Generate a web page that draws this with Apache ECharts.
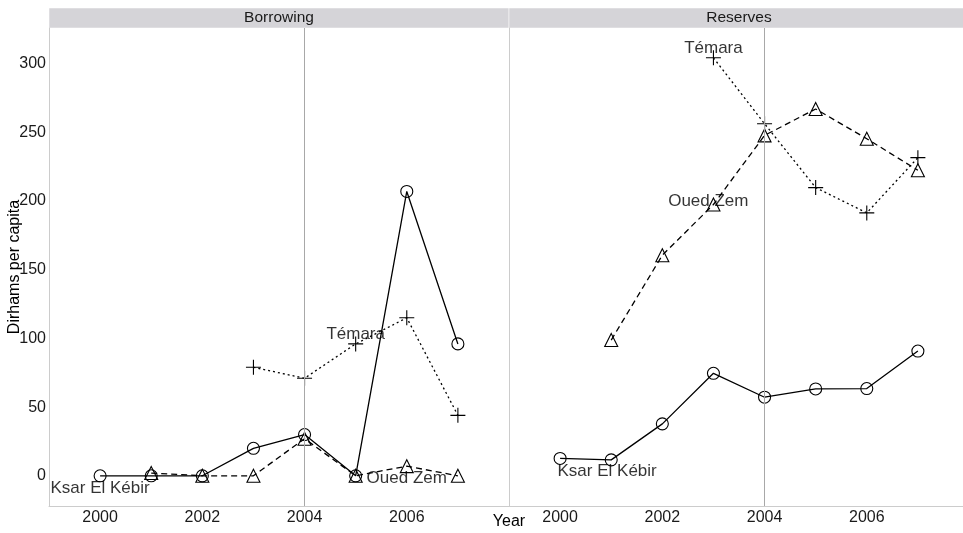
<!DOCTYPE html>
<html><head><meta charset="utf-8">
<script src="https://cdn.jsdelivr.net/npm/echarts@6/dist/echarts.min.js"></script>
<style>html,body{margin:0;padding:0;background:#fff}#c{width:963px;height:533px}</style>
</head><body><div id="c"></div>
<script>
const years = [2000, 2001, 2002, 2003, 2004, 2005, 2006, 2007];
const panels = ['Borrowing', 'Reserves'];
const towns = ['Ksar El Kébir', 'Oued Zem', 'Témara'];
// Borrowing
const borrowKsar  = [0, 0, 0, 20, 30, 0, 207, 96];
const borrowOued  = [null, 2, 0, 0, 27, 0, 7, 0];
const borrowTemara = [null, null, null, 79, 71, 96, 115, 44];
// Reserves
const resKsar  = [12.6, 11.6, 37.8, 74.6, 57.2, 63.2, 63.5, 90.8];
const resOued  = [null, 98.8, 160.6, 197.5, 247.8, 267, 245.4, 222.4];
const resTemara = [null, null, null, 304.3, 256.3, 209.8, 191.4, 231.6];
// direct labels [town, x, y]
const labelsBorrow = [['Ksar El Kébir', 2000, -9], ['Oued Zem', 2006, -2], ['Témara', 2005, 103]];
const labelsRes = [['Ksar El Kébir', 2000.92, 3], ['Oued Zem', 2002.9, 200], ['Témara', 2003, 311.5]];
const refYear = 2004;
const yTicks = [0, 50, 100, 150, 200, 250, 300];
const xTicks = [2000, 2002, 2004, 2006];

const FONT = '"Liberation Sans", Arial, sans-serif';
const pair = arr => years.map((y, i) => arr[i] == null ? null : [y, arr[i]]).filter(d => d);

const styles = [
  {symbol: 'circle', size: 12, type: 'solid'},
  {symbol: 'triangle', size: 13, type: [6, 4]},
  {symbol: 'path://M5,0L5,10M0,5L10,5', size: 15, type: [2, 3]}
];

function lineSeries(data, k, gi) {
  const s = styles[k];
  const ser = {
    type: 'line', xAxisIndex: gi, yAxisIndex: gi, name: towns[k],
    data: pair(data), symbol: s.symbol, symbolSize: s.size,
    showAllSymbol: true, animation: false, z: 3,
    lineStyle: {color: '#000', width: 1.3, type: s.type},
    itemStyle: {color: k === 2 ? 'rgba(0,0,0,0)' : 'rgba(255,255,255,0)', borderColor: '#000', borderWidth: 1.1}
  };
  if (k === 0) {
    ser.markLine = {silent: true, symbol: 'none', label: {show: false},
      lineStyle: {color: '#a8a8a8', width: 1, type: 'solid'},
      data: [{xAxis: refYear}]};
  }
  return ser;
}
function labelSeries(lbls, gi) {
  return {
    type: 'scatter', xAxisIndex: gi, yAxisIndex: gi, symbolSize: 0, animation: false, z: 5,
    data: lbls.map(l => ({name: l[0], value: [l[1], l[2]]})),
    label: {show: true, position: 'inside', formatter: p => p.name, color: '#000', fontSize: 17, fontFamily: FONT}
  };
}

const grids = [
  {left: 49, top: 28, width: 460, height: 478, outerBoundsMode: 'none', containLabel: false},
  {left: 509, top: 28, width: 460, height: 478, outerBoundsMode: 'none', containLabel: false}
];
const xAxes = grids.map((g, i) => ({
  gridIndex: i, type: 'value', min: 1999, max: 2008, interval: 1,
  axisLine: {show: true, onZero: false, lineStyle: {color: '#cccccc', width: 1}},
  axisTick: {show: false}, splitLine: {show: false},
  axisLabel: {color: '#1a1a1a', fontSize: 16, fontFamily: FONT, margin: 4,
    formatter: v => xTicks.includes(v) ? String(v) : ''}
}));
const yAxes = grids.map((g, i) => ({
  gridIndex: i, type: 'value', min: -22, max: 326,
  axisLine: {show: true, onZero: false, lineStyle: {color: '#cccccc', width: 1}},
  axisTick: {show: false, customValues: yTicks}, splitLine: {show: false},
  name: i === 0 ? 'Dirhams per capita' : '', nameLocation: 'middle', nameGap: 26,
  nameMoveOverlap: false,
  nameTextStyle: {color: '#000', fontSize: 16, fontFamily: FONT},
  axisLabel: {show: i === 0, color: '#1a1a1a', fontSize: 16, fontFamily: FONT, margin: 3,
    customValues: yTicks, formatter: v => String(v)}
}));

const chart = echarts.init(document.getElementById('c'), null, {renderer: 'canvas'});
chart.setOption({
  backgroundColor: '#fff',
  animation: false,
  grid: grids,
  xAxis: xAxes,
  yAxis: yAxes,
  series: [
    lineSeries(borrowKsar, 0, 0), lineSeries(borrowOued, 1, 0), lineSeries(borrowTemara, 2, 0),
    lineSeries(resKsar, 0, 1), lineSeries(resOued, 1, 1), lineSeries(resTemara, 2, 1),
    labelSeries(labelsBorrow, 0), labelSeries(labelsRes, 1)
  ],
  graphic: [
    {type: 'rect', shape: {x: 49, y: 8, width: 460, height: 20}, style: {fill: '#d5d4d8', stroke: '#ffffff', lineWidth: 0.5}},
    {type: 'rect', shape: {x: 509, y: 8, width: 460, height: 20}, style: {fill: '#d5d4d8', stroke: '#ffffff', lineWidth: 0.5}},
    {type: 'text', x: 279, y: 18, style: {text: panels[0], fill: '#1a1a1a', fontSize: 15.5, fontFamily: FONT, align: 'center', verticalAlign: 'middle'}},
    {type: 'text', x: 739, y: 18, style: {text: panels[1], fill: '#1a1a1a', fontSize: 15.5, fontFamily: FONT, align: 'center', verticalAlign: 'middle'}},
    {type: 'text', x: 509, y: 522, style: {text: 'Year', fill: '#000', fontSize: 16, fontFamily: FONT, align: 'center', verticalAlign: 'middle'}}
  ]
});
</script></body></html>
